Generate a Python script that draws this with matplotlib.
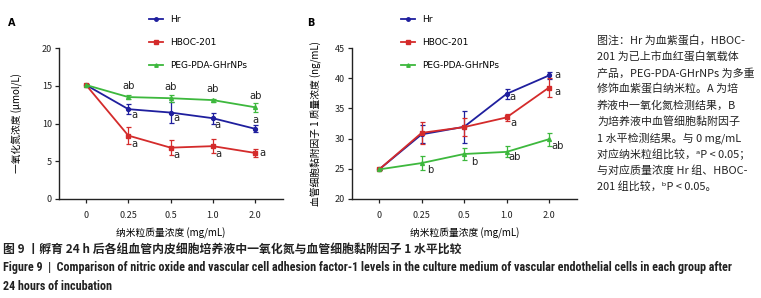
import matplotlib
matplotlib.use("Agg")
import matplotlib.pyplot as plt
from matplotlib import font_manager
from matplotlib.lines import Line2D

CJK = ["Noto Sans CJK SC", "DejaVu Sans"]
plt.rcParams["font.family"] = CJK

# x categories (nanoparticle mass concentration, mg/mL)
x_labels = ["0", "0.25", "0.5", "1.0", "2.0"]
groups = ["Hr", "HBOC-201", "PEG-PDA-GHrNPs"]

# panel A: NO concentration (umol/L)
no_hr = [15.1, 11.9, 11.45, 10.7, 9.3]
no_hr_err = [0.15, 0.7, 1.4, 0.7, 0.45]
no_hboc = [15.1, 8.4, 6.8, 7.0, 6.1]
no_hboc_err = [0.15, 1.15, 1.0, 0.95, 0.5]
no_peg = [15.1, 13.5, 13.35, 13.1, 12.15]
no_peg_err = [0.15, 0.3, 0.45, 0.2, 0.6]

# panel B: VCAM-1 concentration (ng/mL)
vc_hr = [24.9, 30.7, 31.95, 37.4, 40.45]
vc_hr_err = [0.15, 1.5, 2.6, 0.8, 0.6]
vc_hboc = [24.9, 30.95, 31.9, 33.5, 38.45]
vc_hboc_err = [0.15, 1.8, 1.5, 0.6, 1.6]
vc_peg = [24.9, 25.95, 27.45, 27.8, 29.9]
vc_peg_err = [0.15, 1.2, 1.0, 0.9, 1.1]

# significance letters per point ("" = none)
no_hr_sig = ["", "a", "a", "a", "a"]
no_hboc_sig = ["", "a", "a", "a", "a"]
no_peg_sig = ["", "ab", "ab", "ab", "ab"]
vc_hr_sig = ["", "", "", "a", "a"]
vc_hboc_sig = ["", "", "", "a", "a"]
vc_peg_sig = ["", "b", "b", "ab", "ab"]

COLORS = ["#1f1f9e", "#d42b2b", "#3db83d"]
MARKERS = ["o", "s", "^"]

# letter offsets in points (dx, dy, ha, va) per panel / group / point
OFFS_A = {
    0: [None, (2, -4, "left", "center"), (2, -4, "left", "center"), (1, -5, "left", "center"), (0, 6, "center", "center")],
    1: [None, (2, -6, "left", "center"), (2, -5, "left", "center"), (2, -6, "left", "center"), (3, 0, "left", "center")],
    2: [None, (0, 8, "center", "center"), (0, 8, "center", "center"), (0, 8, "center", "center"), (0, 8, "center", "center")],
}
OFFS_B = {
    0: [None, None, None, (2, -2, "left", "center"), (4, 0, "left", "center")],
    1: [None, None, None, (3, -4, "left", "center"), (4, -3, "left", "center")],
    2: [None, (4, -5, "left", "center"), (5, -6, "left", "center"), (1, -4, "left", "center"), (2, -5, "left", "center")],
}


def pick_font(names, default):
    for name in names:
        try:
            font_manager.findfont(name, fallback_to_default=False)
            return name
        except Exception:
            continue
    return default


def fit_width(fig, txt, target_px):
    r = fig.canvas.get_renderer()
    w = txt.get_window_extent(renderer=r).width
    txt.set_fontsize(txt.get_fontsize() * target_px / w)
    return txt.get_fontsize()


def draw_panel(ax, series, errs, sigs, offs, ylim, yticks, ylabel, label_x):
    xs = list(range(len(x_labels)))
    for i, (vals, err) in enumerate(zip(series, errs)):
        ax.errorbar(xs, vals, yerr=err, color=COLORS[i], marker=MARKERS[i],
                    markersize=2.8, linewidth=1.3, elinewidth=0.9, capsize=1.8,
                    capthick=0.9, zorder=3)
    for i, (vals, sig) in enumerate(zip(series, sigs)):
        for j, s in enumerate(sig):
            if not s:
                continue
            dx, dy, ha, va = offs[i][j]
            ax.annotate(s, (xs[j], vals[j]), xytext=(dx, dy), textcoords="offset points",
                        ha=ha, va=va, fontsize=7.2, family="DejaVu Sans", color="#222222")
    ax.set_xlim(-0.64, 4.66)
    ax.set_ylim(*ylim)
    ax.set_yticks(yticks)
    ax.set_xticks(xs)
    ax.set_xticklabels(x_labels)
    for sp in ["top", "right"]:
        ax.spines[sp].set_visible(False)
    for sp in ["left", "bottom"]:
        ax.spines[sp].set_linewidth(1.0)
        ax.spines[sp].set_color("#222222")
    ax.tick_params(axis="both", labelsize=6.5, length=3, width=0.9, colors="#222222", pad=2)
    ax.tick_params(axis="x", pad=6)
    ax.set_ylabel(ylabel, fontsize=7)
    ax.yaxis.set_label_coords(label_x, 0.5)
    ax.set_xlabel("纳米粒质量浓度 (mg/mL)", fontsize=7)
    ax.xaxis.set_label_coords(0.5, -0.19)


fig = plt.figure(figsize=(7.61, 2.98), dpi=100)
W, H = 761, 298

axA = fig.add_axes([59 / W, 1 - 199 / H, 224 / W, 151 / H])
draw_panel(axA, [no_hr, no_hboc, no_peg], [no_hr_err, no_hboc_err, no_peg_err],
           [no_hr_sig, no_hboc_sig, no_peg_sig], OFFS_A, (0, 20), [0, 5, 10, 15, 20],
           "一氧化氮浓度 (μmol/L)", -0.16)

axB = fig.add_axes([352 / W, 1 - 199 / H, 225 / W, 151 / H])
draw_panel(axB, [vc_hr, vc_hboc, vc_peg], [vc_hr_err, vc_hboc_err, vc_peg_err],
           [vc_hr_sig, vc_hboc_sig, vc_peg_sig], OFFS_B, (20, 45), [20, 25, 30, 35, 40, 45],
           "血管细胞黏附因子 1 质量浓度 (ng/mL)", -0.133)

handles = [Line2D([], [], color=c, marker=m, markersize=2.5, linewidth=1.3)
           for c, m in zip(COLORS, MARKERS)]
for lx, tag, tx in [(149, "A", 12), (401, "B", 311)]:
    fig.legend(handles, groups, loc="upper left", bbox_to_anchor=(lx / W, 1 - 15 / H), frameon=False,
               handlelength=1.6, handletextpad=0.7, labelspacing=1.55,
               borderpad=0, borderaxespad=0, prop={"family": "DejaVu Sans", "size": 6.5})
    fig.text(tx / W, 1 - 23 / H, tag, fontsize=7, fontweight="bold", family="DejaVu Sans",
             ha="center", va="center")

note_lines = [
    "图注：Hr 为血紫蛋白，HBOC-",
    "201 为已上市血红蛋白氧载体",
    "产品，PEG-PDA-GHrNPs 为多重",
    "修饰血紫蛋白纳米粒。A 为培",
    "养液中一氧化氮检测结果，B",
    "为培养液中血管细胞黏附因子",
    "1 水平检测结果。与 0 mg/mL",
    "对应纳米粒组比较，ᵃP < 0.05；",
    "与对应质量浓度 Hr 组、HBOC-",
    "201 组比较，ᵇP < 0.05。",
]
for k, line in enumerate(note_lines):
    fig.text(597 / W, 1 - (41 + 16.2 * k) / H, line, fontsize=7.9, ha="left", va="center",
             color="#222222")

cap1 = fig.text(3 / W, 1 - 249 / H,
                "图 9 丨孵育 24 h 后各组血管内皮细胞培养液中一氧化氮与血管细胞黏附因子 1 水平比较",
                fontsize=8, fontweight="bold", ha="left", va="center", color="#222222")

narrow = pick_font(["Liberation Sans Narrow", "DejaVu Sans Condensed", "Roboto Condensed",
                    "Open Sans Condensed"], "Liberation Sans")
cap2 = fig.text(3 / W, 1 - 268 / H,
                "Figure 9  |  Comparison of nitric oxide and vascular cell adhesion factor-1 levels in the culture medium "
                "of vascular endothelial cells in each group after",
                fontsize=7, fontweight="bold", family=narrow, ha="left", va="center", color="#222222")
cap3 = fig.text(3 / W, 1 - 286 / H, "24 hours of incubation", fontsize=7, fontweight="bold",
                family=narrow, ha="left", va="center", color="#222222")

fit_width(fig, cap1, 458)
cap3.set_fontsize(fit_width(fig, cap2, 736))

fig.savefig("out.png", dpi=100)
